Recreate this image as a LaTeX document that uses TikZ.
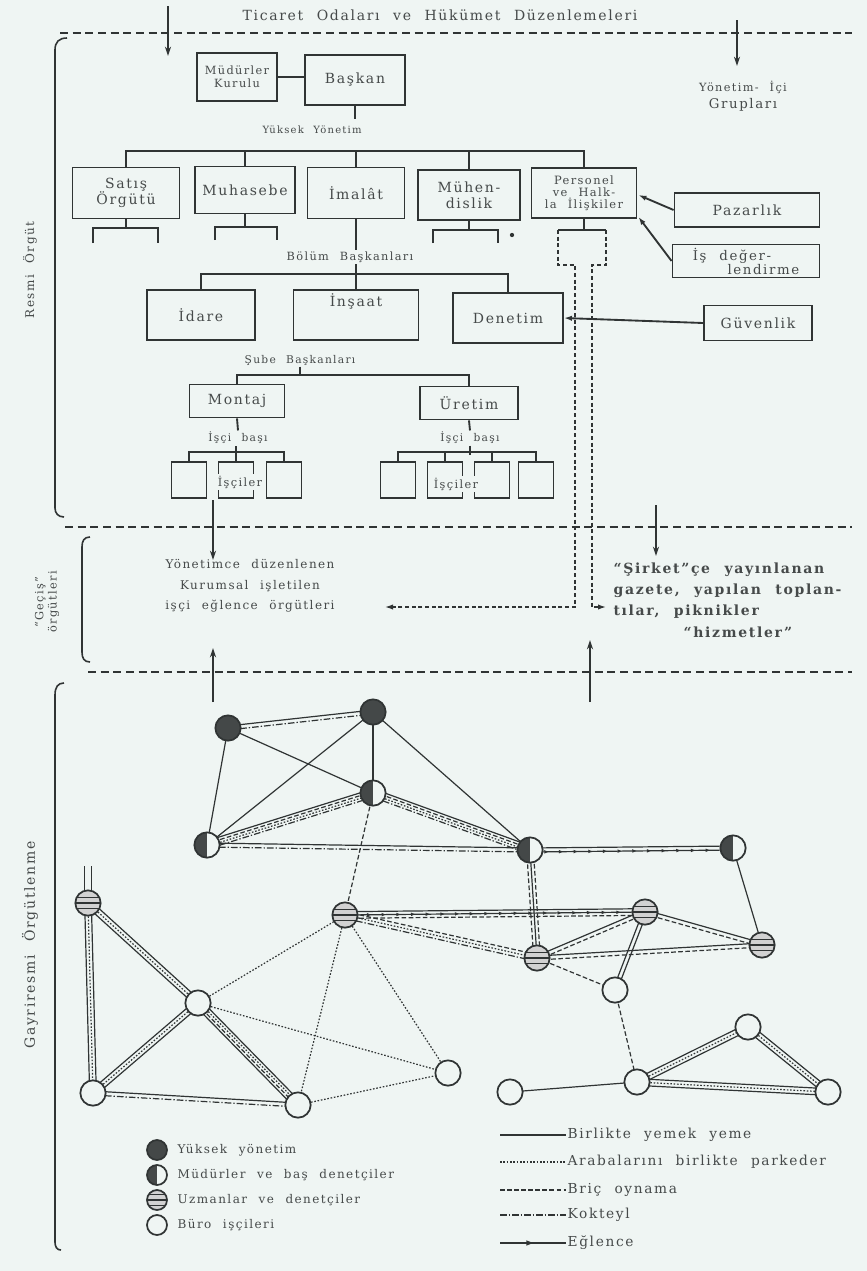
\documentclass[tikz,border=0pt]{standalone}
\usepackage{fontspec}
\setmainfont{DejaVu Serif}[LetterSpace=12,WordSpace=2.2]
\usetikzlibrary{arrows.meta,calc,decorations.markings}
\definecolor{paper}{RGB}{239,245,243}
\definecolor{ink}{RGB}{48,52,52}
\definecolor{txt}{RGB}{70,74,74}
\definecolor{dark}{RGB}{68,72,72}
\pgfdeclarelayer{paperlayer}
\pgfdeclarelayer{edgelayer}
\pgfsetlayers{paperlayer,edgelayer,main}
\newcommand{\tie}[3]{\foreach \o/\s in {#3}{\draw[\s] ($(#1.center)!\o!90:(#2.center)$) -- ($(#2.center)!\o!-90:(#1.center)$);}}

\begin{document}
\begin{tikzpicture}[x=0.75pt,y=0.75pt,yscale=-1,xscale=1,
  lbl/.style={font=\fontsize{7.5}{9}\selectfont, text=txt, inner sep=1pt, align=center},
  box/.style={draw=ink, line width=1.4pt, align=center, font=\fontsize{10.5}{12}\selectfont, text=txt, inner sep=1pt},
  sz/.style 2 args={minimum width=#1*0.75pt, minimum height=#2*0.75pt},
  wbox/.style={draw=ink, line width=1pt, sz={35}{36}},
  conn/.style={draw=ink, line width=1.4pt},
  dsh/.style={draw=ink, line width=1.1pt, dash pattern=on 3pt off 2pt},
  sep/.style={draw=ink, line width=1.3pt, dash pattern=on 6pt off 3.5pt},
  arr/.style={draw=ink, line width=1.1pt, -{Stealth[length=7pt,width=4.5pt]}},
  brk/.style={draw=ink, line width=1.2pt},
  pers/.style={circle, draw=ink, line width=1.3pt, minimum size=19pt, inner sep=0pt, fill=paper},
  yuk/.style={pers, fill=dark},
  mud/.style={pers, path picture={\fill[dark] (path picture bounding box.south west) rectangle (path picture bounding box.north);}},
  uzm/.style={pers, fill=gray!35, path picture={\foreach \h in {-4pt,0pt,4pt} \draw[ink, line width=1pt] ([yshift=\h]path picture bounding box.west) -- ([yshift=\h]path picture bounding box.east);}},
  bur/.style={pers},
  yemek/.style={draw=ink, line width=0.9pt},
  araba/.style={draw=ink, line width=0.9pt, dash pattern=on 1.2pt off 1.3pt},
  bric/.style={draw=ink, line width=0.9pt, dash pattern=on 3.5pt off 1.8pt},
  kokteyl/.style={draw=ink, line width=0.9pt, dash pattern=on 5pt off 1.5pt on 1pt off 1.5pt},
  eglence/.style={draw=ink, line width=0.9pt, postaction={decorate}, decoration={markings, mark=between positions 0.08 and 0.95 step 11pt with {\fill[ink] (-1.5pt,-1.3pt) -- (1.5pt,0pt) -- (-1.5pt,1.3pt) -- cycle;}}},
  eglenceL/.style={draw=ink, line width=1.2pt, postaction={decorate}, decoration={markings, mark=at position 0.45 with {\fill[ink] (-2.5pt,-2pt) -- (2.5pt,0pt) -- (-2.5pt,2pt) -- cycle;}}}
]
\useasboundingbox (0,0) rectangle (867,1271);
\begin{pgfonlayer}{paperlayer}
\fill[paper] (0,0) rectangle (867,1271);
\end{pgfonlayer}

% Text Node
\node[lbl, font=\fontsize{10.5}{12}\selectfont] (odalar) at (440,15) {Ticaret Odaları ve Hükümet Düzenlemeleri};
%Straight Lines
\draw[sep] (60,33) -- (852,33);
\draw[sep] (65,527) -- (852,527);
\draw[sep] (88,672) -- (852,672);
\coordinate (odaL1) at (168,6); \coordinate (odaL2) at (168,56);
\coordinate (odaR1) at (737,20); \coordinate (odaR2) at (737,66);
\draw[arr] (odaL1) -- (odaL2);
\draw[arr] (odaR1) -- (odaR2);
\node[lbl, font=\fontsize{8.5}{10}\selectfont] (grup) at (743,96) {Yönetim- İçi\\[3pt]{\fontsize{10}{12}\selectfont Grupları}};

% brackets
\draw[brk] (67,38) .. controls (59,38) and (55,42) .. (55,50) -- (55,508) .. controls (55,513) and (58,517) .. (64,517);
\draw[brk] (90,537) .. controls (84,537) and (82,541) .. (82,547) -- (82,652) .. controls (82,658) and (84,662) .. (90,662);
\draw[brk] (64,683) .. controls (58,683) and (55,687) .. (55,695) -- (55,1242) .. controls (55,1247) and (57,1250) .. (61,1250);
\node[lbl, rotate=90, font=\fontsize{9}{11}\selectfont] (resmi) at (30,270) {Resmi Örgüt};
\node[lbl, rotate=90, font=\fontsize{8.5}{10}\selectfont] (gecis) at (47,602) {“Geçiş”\\örgütleri};
\node[lbl, rotate=90, font=\fontsize{10.5}{12}\selectfont] (gayri) at (30,945) {Gayriresmi Örgütlenme};

% Top management
\node[box, sz={80}{48}, font=\fontsize{8.5}{10}\selectfont] (kurul) at (237,77) {Müdürler\\Kurulu};
\node[box, sz={100}{50}] (baskan) at (355,80) {Başkan};
\draw[conn] (kurul.east) -- (kurul.east -| baskan.west);
\node[lbl] (yuksek) at (312,130) {Yüksek Yönetim};
\draw[conn] (baskan.south) -- ++(0,13);

% Departments
\node[box, sz={107}{51}] (satis) at (126,193) {Satış\\Örgütü};
\node[box, sz={100}{47}] (muhasebe) at (245,190) {Muhasebe};
\node[box, sz={97}{51}] (imalat) at (356,193) {İmalât};
\node[box, sz={102}{50}] (muhendis) at (469,195) {Mühen-\\dislik};
\node[box, sz={105}{50}, font=\fontsize{8.6}{9}\selectfont] (personel) at (584,193) {Personel\\ve Halk-\\la İlişkiler};
\node[box, sz={145}{34}] (pazarlik) at (747,210) {Pazarlık};
\node[box, sz={147}{33}, align=left, font=\fontsize{10}{10.5}\selectfont] (isdeger) at (746,261) {İş değer-\\\hspace*{2.6em}lendirme};
\coordinate (busA) at (356,151);
\draw[conn] (satis.north) |- (busA) -| (personel.north);
\draw[conn] (muhasebe.north) -- (muhasebe.north |- busA);
\draw[conn] (imalat.north) -- (imalat.north |- busA);
\draw[conn] (muhendis.north) -- (muhendis.north |- busA);
\draw[conn, -{Latex[length=6pt,width=4pt]}] (pazarlik.west) -- ($(personel.east)+(1,2)$);
\draw[conn, -{Latex[length=6pt,width=4pt]}] (isdeger.west) -- ($(personel.south east)+(1,-2)$);

% sub brackets
\draw[conn] (satis.south) -- (126,228);
\draw[conn] (93,243) -- (93,228) -- (158,228) -- (158,243);
\draw[conn] (muhasebe.south) -- (245,227);
\draw[conn] (215,240) -- (215,227) -- (277,227) -- (277,240);
\draw[conn] (muhendis.south) -- (469,230);
\draw[conn] (433,243) -- (433,230) -- (498,230) -- (498,243);
\fill[ink] (512,235) circle (1.6pt);

% personel dashed links
\draw[conn] (personel.south) -- (584,230);
\draw[conn] (558,230) -- (606,230);
\coordinate (kurumL) at (385,607);
\coordinate (kurumR) at (606,607);
\draw[dsh] (558,230) -- (558,265) -- (575,265) -- (575,607) -- (395,607);
\draw[dsh] (606,230) -- (606,265) -- (592,265) -- (592,607) -- (600,607);
\draw[ink, line width=1pt, -{Latex[length=6pt,width=4pt]}] (395,607) -- (kurumL);
\draw[ink, line width=1pt, -{Latex[length=6pt,width=4pt]}] (598,607) -- (kurumR);

% Division heads
\node[lbl, font=\fontsize{8.5}{10}\selectfont] (bolum) at (350,257) {Bölüm Başkanları};
\draw[conn] (imalat.south) -- (imalat.south |- bolum.north);
\node[box, sz={108}{50}] (idare) at (201,315) {İdare};
\node[box, sz={125}{50}] (insaat) at (356,315) {İnşaat\\[10pt]};
\node[box, sz={110}{50}] (denetim) at (508,318) {Denetim};
\node[box, sz={108}{35}] (guvenlik) at (758,323) {Güvenlik};
\coordinate (busB) at (356,274);
\draw[conn] (idare.north) |- (busB) -| (denetim.north);
\draw[conn] (bolum.south -| insaat.north) -- (insaat.north);
\draw[conn, {Latex[length=6pt,width=4pt]}-] (denetim.east) -- (guvenlik.west);

% Branch heads
\node[lbl, font=\fontsize{8}{10}\selectfont] (sube) at (300,360) {Şube Başkanları};
\node[box, sz={95}{33}] (montaj) at (237,401) {Montaj};
\node[box, sz={98}{33}] (uretim) at (469,403) {Üretim};
\coordinate (busC) at (300,375);
\draw[conn] (montaj.north) |- (busC) -| (uretim.north);
\draw[conn] (sube.south) -- (sube.south |- busC);
\node[lbl, font=\fontsize{8}{10}\selectfont] (basi1) at (238,438) {İşçi başı};
\node[lbl, font=\fontsize{8}{10}\selectfont] (basi2) at (470,438) {İşçi başı};
\draw[conn] (montaj.south) -- (basi1.north);
\draw[conn] (uretim.south) -- (basi2.north);

% workers
\foreach \x [count=\i] in {189,236,284} \node[wbox] (isciL\i) at (\x,480) {};
\foreach \x [count=\i] in {398,445,492,536} \node[wbox] (isciR\i) at (\x,480) {};
\draw[conn] (isciL1.north) -- ++(0,-9) -| (isciL3.north);
\draw[conn] (isciL2.north) -- (basi1.south -| isciL2.north);
\draw[conn] (isciR1.north) -- ++(0,-9) -| (isciR4.north);
\draw[conn] (isciR2.north) -- ++(0,-9);
\draw[conn] (isciR3.north) -- ++(0,-9);
\draw[conn] (basi2.south) -- ++(0,9);
\node[lbl, fill=paper, font=\fontsize{8.5}{10}\selectfont] (isciLt) at (240,482) {İşçiler};
\node[lbl, fill=paper, font=\fontsize{8.5}{10}\selectfont] (isciRt) at (456,484) {İşçiler};

% Transitional organisations
\node[lbl, font=\fontsize{9}{15.5}\selectfont] (kurum) at (250,586) {Yönetimce düzenlenen\\Kurumsal işletilen\\işçi eğlence örgütleri};
\node[lbl, align=left, font=\bfseries\fontsize{10.5}{16}\selectfont, anchor=west] (hizmet) at (612,600) {“Şirket”çe yayınlanan\\gazete, yapılan toplan-\\tılar, piknikler\\\hspace*{5em}“hizmetler”};
\coordinate (okL1) at (213,500); \coordinate (okL2) at (213,560);
\coordinate (okR1) at (656,505); \coordinate (okR2) at (656,556);
\coordinate (okL3) at (213,702); \coordinate (okL4) at (213,648);
\coordinate (okR3) at (590,702); \coordinate (okR4) at (590,640);
\draw[arr] (okL1) -- (okL2);
\draw[arr] (okR1) -- (okR2);
\draw[arr] (okL3) -- (okL4);
\draw[arr] (okR3) -- (okR4);

% Informal network: persons
\node[yuk] (yonA) at (228,728) {};
\node[yuk] (yonB) at (373,712) {};
\node[mud] (mudA) at (373,793) {};
\node[mud] (mudB) at (207,845) {};
\node[mud] (mudC) at (530,850) {};
\node[mud] (mudD) at (733,848) {};
\node[uzm] (uzmA) at (88,903) {};
\node[uzm] (uzmB) at (345,915) {};
\node[uzm] (uzmC) at (537,958) {};
\node[uzm] (uzmD) at (645,912) {};
\node[uzm] (uzmE) at (762,945) {};
\node[bur] (burA) at (615,990) {};
\node[bur] (burB) at (198,1003) {};
\node[bur] (burC) at (448,1073) {};
\node[bur] (burD) at (93,1093) {};
\node[bur] (burE) at (298,1105) {};
\node[bur] (burF) at (510,1092) {};
\node[bur] (burG) at (637,1082) {};
\node[bur] (burH) at (748,1027) {};
\node[bur] (burI) at (828,1092) {};
\coordinate (uzmAtop) at (88,866);

% Informal network: ties
\begin{pgfonlayer}{edgelayer}
\tie{yonA}{yonB}{-1.5pt/yemek,1.5pt/kokteyl}
\tie{yonA}{mudA}{0pt/yemek}
\tie{yonA}{mudB}{0pt/yemek}
\tie{yonB}{mudA}{0pt/yemek}
\tie{yonB}{mudB}{0pt/yemek}
\tie{yonB}{mudC}{0pt/yemek}
\tie{mudB}{mudA}{-3pt/yemek,-1pt/bric,1pt/araba,3pt/kokteyl}
\tie{mudA}{mudC}{-3pt/yemek,-1pt/bric,1pt/araba,3pt/kokteyl}
\tie{mudB}{mudC}{-1.5pt/yemek,1.5pt/kokteyl}
\tie{mudC}{mudD}{-1.5pt/yemek,1.5pt/eglence}
\tie{mudC}{uzmC}{-2.5pt/bric,0pt/yemek,2.5pt/bric}
\tie{mudD}{uzmE}{0pt/yemek}
\tie{mudA}{uzmB}{0pt/bric}
\tie{uzmB}{uzmD}{-2.5pt/yemek,0pt/eglence,2.5pt/bric}
\tie{uzmB}{uzmC}{-2.5pt/bric,0pt/araba,2.5pt/kokteyl}
\tie{uzmC}{uzmD}{-1.5pt/yemek,1.5pt/bric}
\tie{uzmC}{uzmE}{-1.5pt/yemek,1.5pt/bric}
\tie{uzmD}{uzmE}{-1.5pt/yemek,1.5pt/bric}
\tie{uzmD}{burA}{-1.5pt/yemek,1.5pt/yemek}
\tie{uzmC}{burA}{0pt/bric}
\tie{burA}{burG}{0pt/bric}
\tie{uzmA}{uzmAtop}{-2.5pt/yemek,2.5pt/yemek}
\tie{uzmA}{burD}{-2.5pt/yemek,0pt/araba,2.5pt/yemek}
\tie{uzmA}{burB}{-2.5pt/yemek,0pt/araba,2.5pt/yemek}
\tie{burB}{burD}{-2.5pt/yemek,0pt/araba,2.5pt/yemek}
\tie{burB}{burE}{-3pt/yemek,-1pt/araba,1pt/bric,3pt/yemek}
\tie{burD}{burE}{-1.5pt/yemek,1.5pt/kokteyl}
\tie{burB}{uzmB}{0pt/araba}
\tie{burB}{burC}{0pt/araba}
\tie{uzmB}{burC}{0pt/araba}
\tie{uzmB}{burE}{0pt/araba}
\tie{burE}{burC}{0pt/araba}
\tie{burF}{burG}{0pt/yemek}
\tie{burG}{burH}{-2.5pt/yemek,0pt/araba,2.5pt/yemek}
\tie{burH}{burI}{-2.5pt/yemek,0pt/araba,2.5pt/yemek}
\tie{burG}{burI}{-2.5pt/yemek,0pt/araba,2.5pt/yemek}
\end{pgfonlayer}

% Legend
\node[yuk, minimum size=15pt] (lgYuk) at (157,1150) {};
\node[mud, minimum size=15pt] (lgMud) at (157,1175) {};
\node[uzm, minimum size=15pt] (lgUzm) at (157,1200) {};
\node[bur, minimum size=15pt] (lgBur) at (157,1225) {};
\node[lbl, anchor=west, font=\fontsize{9}{11}\selectfont] (lgYukT) at (176,1150) {Yüksek yönetim};
\node[lbl, anchor=west, font=\fontsize{9}{11}\selectfont] (lgMudT) at (176,1175) {Müdürler ve baş denetçiler};
\node[lbl, anchor=west, font=\fontsize{9}{11}\selectfont] (lgUzmT) at (176,1200) {Uzmanlar ve denetçiler};
\node[lbl, anchor=west, font=\fontsize{9}{11}\selectfont] (lgBurT) at (176,1225) {Büro işçileri};
\foreach \nm/\st/\yy/\tx in {yemek/yemek/1135/Birlikte yemek yeme,araba/araba/1162/Arabalarını birlikte parkeder,bric/bric/1190/Briç oynama,kokteyl/kokteyl/1215/Kokteyl,eglence/eglenceL/1243/Eğlence}{
  \node[lbl, anchor=west, font=\fontsize{10.3}{12}\selectfont] (lg\nm) at (566,\yy) {\tx};
  \coordinate (lg\nm S) at (500,\yy);
  \draw[\st, line width=1.2pt] (lg\nm S) -- (lg\nm.west);
}
\end{tikzpicture}
\end{document}
